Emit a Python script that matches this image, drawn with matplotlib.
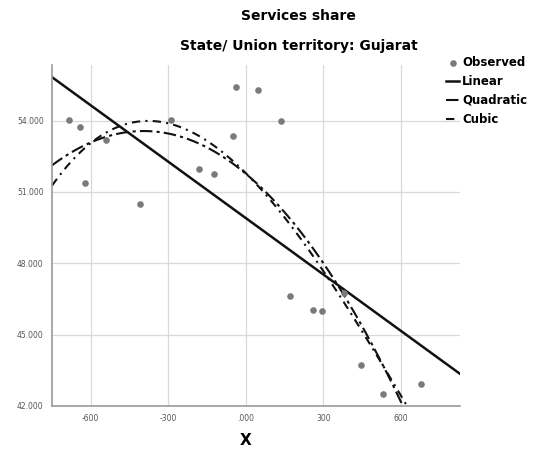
import matplotlib.pyplot as plt
import numpy as np

# Observed points (x centred, services share %)
obs_x = [-684, -641, -622, -541, -409, -289, -181, -123, -49, -38,
         48, 137, 172, 260, 295, 380, 446, 531, 678]
obs_y = [54.02, 53.72, 51.37, 53.18, 50.49, 54.02, 51.96, 51.75, 53.34, 55.40,
         55.28, 53.97, 46.62, 46.03, 45.99, 46.75, 43.72, 42.50, 42.92]

x_ticks = [-600, -300, 0, 300, 600]
x_tick_labels = ['-600', '-300', '.000', '300', '600']
y_ticks = [42, 45, 48, 51, 54]
y_tick_labels = ['42.000', '45.000', '48.000', '51.000', '54.000']

fig = plt.figure(figsize=(5.43, 4.57), dpi=100)
ax = fig.add_axes([0.0958, 0.1116, 0.751, 0.746])

xs = np.linspace(-750, 828, 400)
# curve fits (linear, quadratic, cubic) through the observed points
p1 = np.polyfit(obs_x, obs_y, 1)
p2 = np.polyfit(obs_x, obs_y, 2)
p3 = np.polyfit(obs_x, obs_y, 3)

ax.scatter(obs_x, obs_y, s=14, color='#7a7a7a', zorder=3, label='Observed')
ax.plot(xs, np.polyval(p1, xs), color='#111111', lw=1.8, label='Linear')
ax.plot(xs, np.polyval(p2, xs), color='#111111', lw=1.5,
        dashes=(6, 2, 1.5, 2), label='Quadratic')
ax.plot(xs, np.polyval(p3, xs), color='#111111', lw=1.5,
        dashes=(4, 2.5, 1, 2.5), label='Cubic')

ax.set_xlim(-750, 828)
ax.set_ylim(42, 56.33)
ax.set_xticks(x_ticks)
ax.set_xticklabels(x_tick_labels)
ax.set_yticks(y_ticks)
ax.set_yticklabels(y_tick_labels)
ax.tick_params(labelsize=5.5, labelcolor='#555555', length=0, pad=6)
ax.grid(True, color='#d9d9d9', lw=0.9)
ax.set_axisbelow(True)
for s in ['top', 'right']:
    ax.spines[s].set_visible(False)
for s in ['left', 'bottom']:
    ax.spines[s].set_color('#999999')
    ax.spines[s].set_linewidth(1.2)

fig.text(0.55, 0.965, 'Services share', ha='center', va='center',
         fontsize=10, fontweight='bold')
fig.text(0.55, 0.9, 'State/ Union territory: Gujarat', ha='center', va='center',
         fontsize=10, fontweight='bold')
fig.text(0.452, 0.037, 'X', ha='center', va='center', fontsize=11, fontweight='bold')

leg = ax.legend(loc='upper left', bbox_to_anchor=(0.955, 1.04), frameon=False,
                prop={'weight': 'bold', 'size': 8.5}, handlelength=1.1,
                handletextpad=0.25, labelspacing=0.5, borderaxespad=0)

plt.savefig('out.png', dpi=100)
